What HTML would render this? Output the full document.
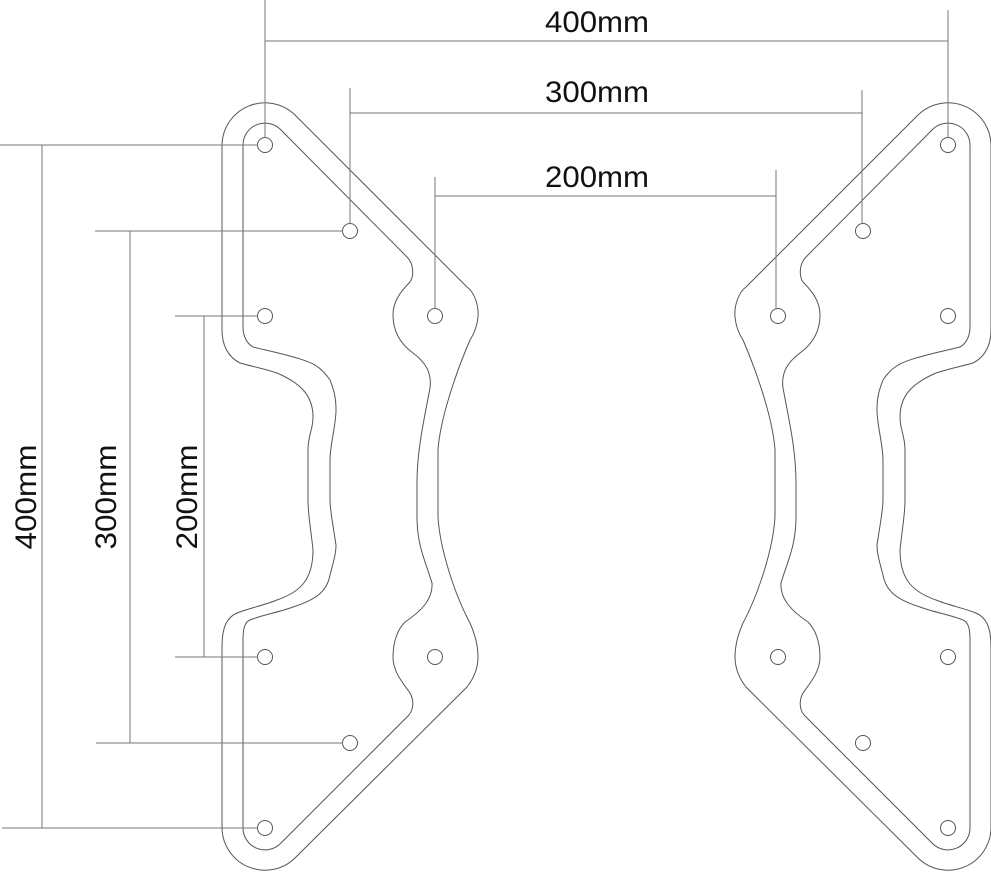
<!DOCTYPE html>
<html><head><meta charset="utf-8"><style>
html,body{margin:0;padding:0;background:#fff;}
svg{display:block;}
text{font-family:"Liberation Sans",sans-serif;font-size:30px;fill:#111;}
</style></head><body>
<svg width="991" height="873" viewBox="0 0 991 873" xmlns="http://www.w3.org/2000/svg">
<defs>
<g id="plate" fill="none" stroke="#555" stroke-width="1">
<path d="M222,145 A43,43 0 0 1 295,115 L467,287 C474,292 479,305 478,317 C477,327 474,334 470,340 C455,375 440,420 438,450 L438,517 C440,550 455,595 470,623 C474,632 478,645 478,657 C478,668 474,678 467,687 L295,858 A43,43 0 0 1 222,828 L222,647 C222,625 228,617 237,613 C250,608 265,605 277,600 C300,592 313,580 313,550 C311,530 308,515 308,500 L308,450 C308,435 313,430 313,417 C313,395 300,383 277,373 C262,368 250,366 240,363 C228,357 222,345 222,330 Z"/>
<path d="M243,145 A22,22 0 0 1 280.5,129.5 L407,257 C414,264 414,276 410,282 C400,292 393,302 393,315 C393,333 402,345 413,353 C425,362 432,372 430,388 C424,420 417,450 417,483 L417,517 C417,545 425,560 432,583 C433,600 420,612 405,622 C397,630 393,643 393,657 C393,672 403,683 410,693 C414,700 414,710 408,716 L280.5,843.5 A22,22 0 0 1 243,828 L243,640 C243,628 245,622 250,620 C262,615 280,612 293,607 C315,600 327,592 330,575 C334,560 336,553 336,545 C333,525 330,510 330,500 L330,460 C330,445 336,425 336,410 C336,395 333,388 330,380 C320,365 310,362 297,358 C280,353 265,350 253,347 C246,343 243,335 243,327 Z"/>
<circle cx="265" cy="145" r="7.5"/>
<circle cx="350" cy="231" r="7.5"/>
<circle cx="265" cy="316" r="7.5"/>
<circle cx="435" cy="316" r="7.5"/>
<circle cx="265" cy="657" r="7.5"/>
<circle cx="435" cy="657" r="7.5"/>
<circle cx="350" cy="743" r="7.5"/>
<circle cx="265" cy="828" r="7.5"/>
</g>
</defs>
<use href="#plate"/>
<use href="#plate" transform="translate(1213,0) scale(-1,1)"/>
<g stroke="#777" stroke-width="1" fill="none">
<line x1="265" y1="0" x2="265" y2="138"/>
<line x1="948" y1="10" x2="948" y2="138"/>
<line x1="265" y1="41" x2="948" y2="41"/>
<line x1="350" y1="88" x2="350" y2="224"/>
<line x1="862" y1="90" x2="862" y2="224"/>
<line x1="350" y1="113" x2="862" y2="113"/>
<line x1="435" y1="177" x2="435" y2="309"/>
<line x1="776" y1="170" x2="776" y2="309"/>
<line x1="435" y1="196" x2="776" y2="196"/>
<line x1="0" y1="145" x2="258" y2="145"/>
<line x1="2" y1="828" x2="258" y2="828"/>
<line x1="42" y1="145" x2="42" y2="828"/>
<line x1="95" y1="231" x2="343" y2="231"/>
<line x1="96" y1="743" x2="343" y2="743"/>
<line x1="130" y1="231" x2="130" y2="743"/>
<line x1="175" y1="316" x2="258" y2="316"/>
<line x1="175" y1="657" x2="258" y2="657"/>
<line x1="204" y1="316" x2="204" y2="657"/>
</g>
<text x="597" y="32" text-anchor="middle" textLength="104" lengthAdjust="spacingAndGlyphs">400mm</text>
<text x="597" y="102" text-anchor="middle" textLength="104" lengthAdjust="spacingAndGlyphs">300mm</text>
<text x="597" y="187" text-anchor="middle" textLength="104" lengthAdjust="spacingAndGlyphs">200mm</text>
<g style="font-size:34px">
<text transform="translate(36,497) rotate(-90)" text-anchor="middle" textLength="105" lengthAdjust="spacingAndGlyphs">400mm</text>
<text transform="translate(116,497) rotate(-90)" text-anchor="middle" textLength="105" lengthAdjust="spacingAndGlyphs">300mm</text>
<text transform="translate(197,497) rotate(-90)" text-anchor="middle" textLength="105" lengthAdjust="spacingAndGlyphs">200mm</text>
</g>
</svg>
</body></html>
